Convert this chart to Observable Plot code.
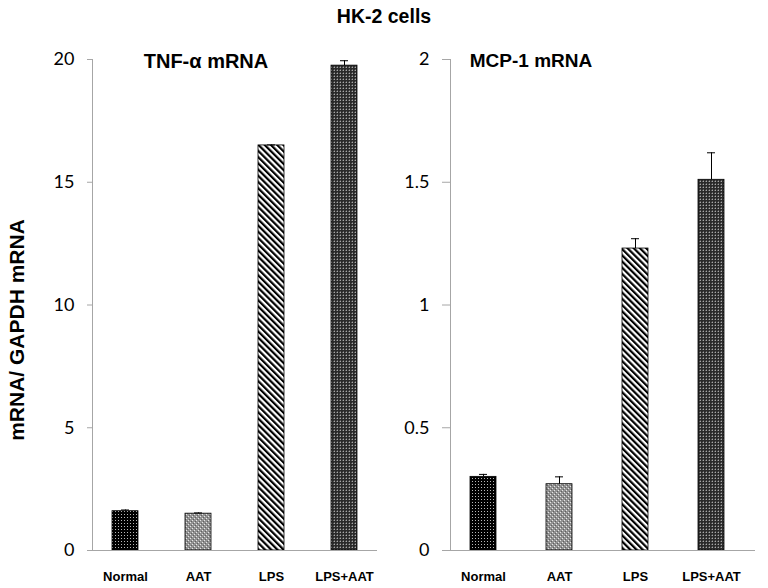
<!DOCTYPE html>
<html>
<head>
<meta charset="utf-8">
<script src="https://cdn.jsdelivr.net/npm/d3@7"></script>
<script src="https://cdn.jsdelivr.net/npm/@observablehq/plot@0.6"></script>
<style>
  html, body { margin: 0; padding: 0; background: #fff; }
  #wrap { position: relative; width: 768px; height: 588px; overflow: hidden; }
  .panel { position: absolute; top: 0; }
  .ttl { position: absolute; font-family: "Liberation Sans", Arial, sans-serif; font-weight: bold; color: #000; white-space: nowrap; transform: translate(-50%, -50%); }
</style>
</head>
<body>
<svg width="0" height="0" style="position:absolute">
  <defs>
    <pattern id="pNormal" patternUnits="userSpaceOnUse" width="3" height="3">
      <rect width="3" height="3" fill="#000"/>
      <rect x="1" y="1" width="1" height="1" fill="#b8b8b8"/>
    </pattern>
    <pattern id="pAAT" patternUnits="userSpaceOnUse" width="4" height="4">
      <rect width="4" height="4" fill="#929292"/>
      <rect x="0" y="0" width="1" height="1" fill="#e6e6e6"/>
      <rect x="2" y="2" width="1" height="1" fill="#e6e6e6"/>
      <rect x="1" y="3" width="1" height="1" fill="#606060"/>
      <rect x="3" y="1" width="1" height="1" fill="#606060"/>
    </pattern>
    <pattern id="pLPS" patternUnits="userSpaceOnUse" width="4.4" height="10" patternTransform="rotate(-45)">
      <rect width="4.4" height="10" fill="#fff"/>
      <rect x="0" y="0" width="2.2" height="10" fill="#000"/>
    </pattern>
    <pattern id="pLPSAAT" patternUnits="userSpaceOnUse" width="3" height="3">
      <rect width="3" height="3" fill="#2a2a2a"/>
      <rect x="1" y="1" width="1" height="1" fill="#a8a8a8"/>
      <rect x="0" y="1" width="1" height="1" fill="#5a5a5a"/>
      <rect x="1" y="0" width="1" height="1" fill="#5a5a5a"/>
    </pattern>
  </defs>
</svg>
<div id="wrap">
  <div id="left" class="panel" style="left:0px;"></div>
  <div id="right" class="panel" style="left:384px;"></div>
  <div class="ttl" style="left:384px; top:16px; font-size:19.5px;">HK-2 cells</div>
  <div class="ttl" style="left:206px; top:61px; font-size:20px;">TNF-α mRNA</div>
  <div class="ttl" style="left:531px; top:61px; font-size:19px;">MCP-1 mRNA</div>
  <div class="ttl" style="left:17px; top:330px; font-size:21px; transform: translate(-50%, -50%) rotate(-90deg);">mRNA/ GAPDH mRNA</div>
</div>
<script>
const categories = ["Normal", "AAT", "LPS", "LPS+AAT"];
const patterns = ["url(#pNormal)", "url(#pAAT)", "url(#pLPS)", "url(#pLPSAAT)"];

const tnfValues = [1.6, 1.5, 16.5, 19.75];
const tnfErrors = [0.05, 0.03, 0.02, 0.2];
const tnfTicks = [0, 5, 10, 15, 20];
const tnfTickLabels = ["0", "5", "10", "15", "20"];

const mcpValues = [0.30, 0.27, 1.23, 1.51];
const mcpErrors = [0.01, 0.03, 0.04, 0.11];
const mcpTicks = [0, 0.5, 1, 1.5, 2];
const mcpTickLabels = ["0", "0.5", "1", "1.5", "2"];

function panel(values, errors, ticks, tickLabels, opts) {
  const data = categories.map((c, i) => ({cat: c, v: values[i], e: values[i] + errors[i], fill: patterns[i]}));
  const maxY = ticks[ticks.length - 1];
  return Plot.plot({
    width: 384,
    height: 588,
    marginTop: 59,
    marginBottom: 38,
    marginLeft: opts.marginLeft,
    marginRight: opts.marginRight,
    style: {background: "transparent", overflow: "visible"},
    x: {domain: categories, paddingInner: opts.paddingInner, paddingOuter: opts.paddingOuter, align: opts.align, label: null, axis: null},
    y: {domain: [0, maxY], label: null, axis: null},
    marks: [
      Plot.axisY({
        ticks: ticks,
        tickFormat: d => tickLabels[ticks.indexOf(d)],
        tickSize: opts.tickSize,
        tickPadding: 13,
        stroke: "#a6a6a6",
        color: "#000",
        fontSize: 18,
        fontFamily: "Lato, 'Open Sans', sans-serif",
        label: null
      }),
      Plot.axisX({
        tickSize: 0,
        tickPadding: 21,
        color: "#000",
        fontSize: 13,
        fontWeight: "bold",
        fontFamily: "'Liberation Sans', Arial, sans-serif",
        label: null
      }),
      Plot.frame({anchor: "left", stroke: "#a6a6a6"}),
      Plot.barY(data, {x: "cat", y: "v", fill: "fill", stroke: "#000", strokeWidth: 0.8}),
      Plot.ruleX(data, {x: "cat", y1: "v", y2: "e", stroke: "#000", strokeWidth: 1}),
      Plot.tickY(data, {x: "cat", y: "e", stroke: "#000", strokeWidth: 1, insetLeft: 9, insetRight: 9}),
      Plot.ruleY([0], {stroke: "#a6a6a6", strokeWidth: 1.2})
    ]
  });
}

document.getElementById("left").appendChild(
  panel(tnfValues, tnfErrors, tnfTicks, tnfTickLabels,
        {marginLeft: 92, marginRight: 7, paddingInner: 0.645, paddingOuter: 0.267, align: 0.5, tickSize: 5})
);
document.getElementById("right").appendChild(
  panel(mcpValues, mcpErrors, mcpTicks, mcpTickLabels,
        {marginLeft: 66, marginRight: 13, paddingInner: 0.655, paddingOuter: 0.316, align: 0.387, tickSize: 8})
);
</script>
</body>
</html>
